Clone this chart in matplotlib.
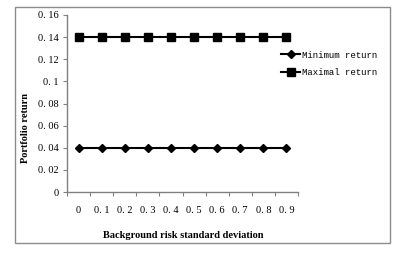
import numpy as np
import matplotlib.pyplot as plt
from matplotlib.patches import Rectangle

# Datos del grafico
categorias = ['0', '0. 1', '0. 2', '0. 3', '0. 4', '0. 5', '0. 6', '0. 7', '0. 8', '0. 9']
retorno_min = [0.04, 0.04, 0.04, 0.04, 0.04, 0.04, 0.04, 0.04, 0.04, 0.04]
retorno_max = [0.14, 0.14, 0.14, 0.14, 0.14, 0.14, 0.14, 0.14, 0.14, 0.14]
y_ticks = [0, 0.02, 0.04, 0.06, 0.08, 0.1, 0.12, 0.14, 0.16]
y_labels = ['0', '0. 02', '0. 04', '0. 06', '0. 08', '0. 1', '0. 12', '0. 14', '0. 16']

W, H = 401, 254
fig = plt.figure(figsize=(W / 100, H / 100), dpi=100)

# Marco exterior estilo Excel
fig.patches.append(Rectangle((15 / W, 1 - 243 / H), 375 / W, 236 / H,
                             transform=fig.transFigure, fill=False,
                             edgecolor='#8c8c8c', linewidth=1.0))

ax = fig.add_axes([67 / W, 1 - 192 / H, 231 / W, 177 / H])
x = np.arange(len(categorias))

ax.plot(x, retorno_min, color='black', linewidth=1.5, marker='D', markersize=4.5,
        label='Minimum return')
ax.plot(x, retorno_max, color='black', linewidth=1.5, marker='s', markersize=6,
        label='Maximal return')

ax.set_xlim(-0.5, len(categorias) - 0.5)
ax.set_ylim(0, 0.16)

for s in ['top', 'right']:
    ax.spines[s].set_visible(False)
for s in ['left', 'bottom']:
    ax.spines[s].set_color('#808080')
    ax.spines[s].set_linewidth(1.0)

serif = 'Liberation Serif'
ax.set_yticks(y_ticks)
ax.set_yticklabels(y_labels, fontsize=7.5, family=serif)
ax.tick_params(axis='y', direction='out', length=3, color='#808080', pad=3)

# Ticks entre categorias
ax.set_xticks(np.arange(-0.5, len(categorias), 1.0))
ax.set_xticklabels([])
ax.tick_params(axis='x', which='major', direction='out', length=3, color='#808080')
ax.set_xticks(x, minor=True)
ax.set_xticklabels(categorias, minor=True, fontsize=7.5, family=serif)
ax.tick_params(axis='x', which='minor', length=0, pad=10)

fig.text(183 / W, 1 - 236 / H, 'Background risk standard deviation', ha='center',
         va='center', fontsize=7.5, fontweight='bold', family=serif)
fig.text(25 / W, 1 - 128 / H, 'Portfolio return', ha='center', va='center',
         rotation=90, fontsize=7.5, fontweight='bold', family=serif)

leg = ax.legend(loc='upper left', bbox_to_anchor=(277 / W, 1 - 47 / H),
                bbox_transform=fig.transFigure, frameon=False,
                prop={'family': 'Liberation Mono', 'size': 6.5},
                handlelength=2.2, handletextpad=0.2, labelspacing=0.9,
                borderaxespad=0)

fig.savefig('out.png', dpi=100)
